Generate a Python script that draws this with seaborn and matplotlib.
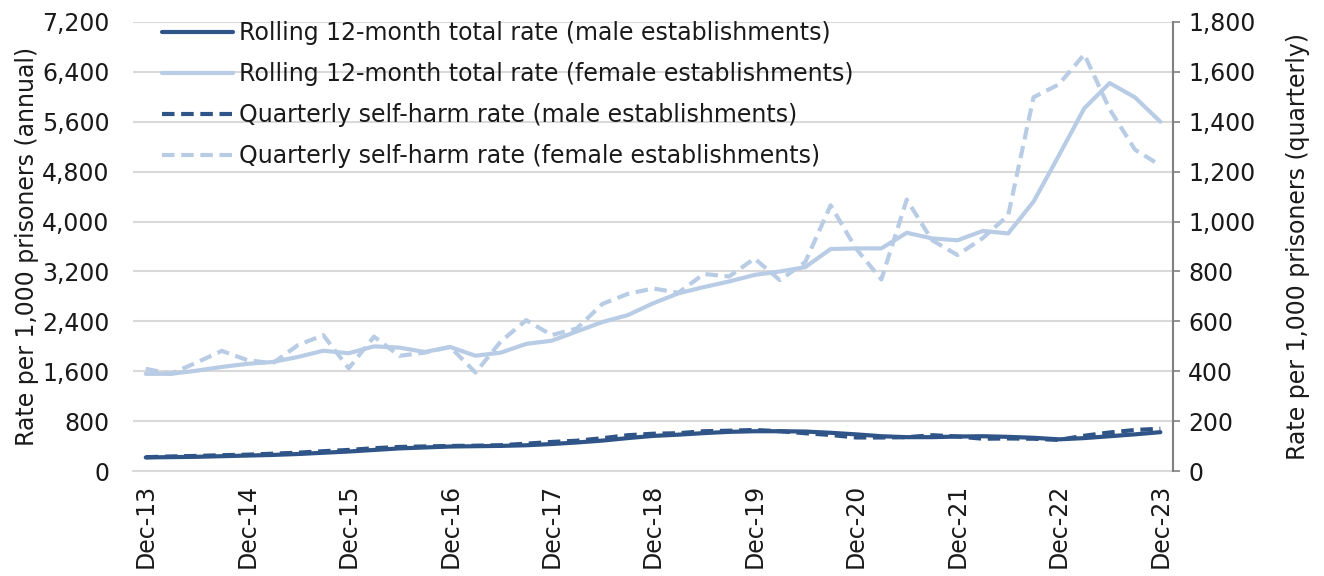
import numpy as np
import pandas as pd
import matplotlib.pyplot as plt
import seaborn as sns
from matplotlib.ticker import FuncFormatter, FixedLocator

# quarters Dec-13 .. Dec-23
months = ["Mar", "Jun", "Sep", "Dec"]
quarters = ["Dec-13"] + [f"{m}-{y:02d}" for y in range(14, 24) for m in months]

# rolling 12-month totals (per 1,000 prisoners, annual)
male_rolling = [220, 225, 230, 240, 250, 260, 275, 295, 315, 340,
                365, 380, 395, 400, 405, 415, 435, 460, 490, 530,
                565, 585, 610, 630, 640, 640, 635, 615, 590, 560,
                545, 545, 555, 560, 550, 535, 510, 530, 560, 590, 625]
female_rolling = [1560, 1560, 1610, 1670, 1720, 1750, 1830, 1930, 1890, 2000,
                  1980, 1910, 1990, 1850, 1900, 2040, 2090, 2240, 2390, 2500,
                  2690, 2850, 2950, 3040, 3145, 3200, 3270, 3560, 3570, 3570,
                  3820, 3730, 3700, 3850, 3810, 4320, 5060, 5815, 6220, 5990, 5600]

# quarterly rates (per 1,000 prisoners, quarterly)
male_quarterly = [56, 59, 61, 64, 66, 70, 74, 80, 85, 92,
                  97, 99, 101, 102, 104, 110, 117, 122, 132, 144,
                  150, 152, 160, 162, 165, 160, 152, 145, 135, 135,
                  136, 144, 139, 130, 131, 130, 125, 142, 155, 165, 170]
female_quarterly = [410, 390, 435, 482, 445, 432, 505, 545, 412, 539,
                    462, 475, 498, 395, 520, 605, 545, 572, 670, 710,
                    732, 715, 790, 780, 852, 765, 838, 1065, 892, 768,
                    1088, 925, 866, 934, 1025, 1498, 1550, 1670, 1450, 1288, 1225]

label_pos = list(range(0, 41, 4))
label_txt = [quarters[i] for i in label_pos]

df = pd.DataFrame({
    "pos": np.arange(len(quarters)),
    "quarter": quarters,
    "male_rolling": male_rolling,
    "female_rolling": female_rolling,
    "male_quarterly": male_quarterly,
    "female_quarterly": female_quarterly,
})

dark = "#2F5487"
light = "#B9CCE5"
txt = "#1a1a1a"
fs = 17

sns.set_style("white")
plt.rcParams["font.family"] = ["DejaVu Sans"]

fig, ax = plt.subplots(figsize=(13.24, 5.76), dpi=100)
fig.subplots_adjust(left=0.1005, right=0.886, top=0.962, bottom=0.182)
ax2 = ax.twinx()

lw = 3.0
dash = (0, (3.0, 1.6))
sns.lineplot(data=df, x="pos", y="male_rolling", ax=ax, color=dark, lw=lw)
sns.lineplot(data=df, x="pos", y="female_rolling", ax=ax, color=light, lw=lw)
sns.lineplot(data=df, x="pos", y="male_quarterly", ax=ax2, color=dark, lw=lw, linestyle=dash)
sns.lineplot(data=df, x="pos", y="female_quarterly", ax=ax2, color=light, lw=lw, linestyle=dash)

ax.set_xlim(-0.5, 40.5)
ax.set_ylim(0, 7200)
ax2.set_ylim(0, 1800)
ax.set_yticks(np.arange(0, 7201, 800))
ax2.set_yticks(np.arange(0, 1801, 200))
fmt = FuncFormatter(lambda v, p: f"{int(v):,}")
ax.yaxis.set_major_formatter(fmt)
ax2.yaxis.set_major_formatter(fmt)

ax.grid(axis="y", color="#D9D9D9", lw=1.5)
ax.set_axisbelow(True)

ax.set_xticks(label_pos)
ax.set_xticklabels(label_txt, rotation=90)
ax.xaxis.set_minor_locator(FixedLocator(np.arange(-0.5, 41, 1)))
ax.tick_params(axis="x", which="major", length=0, pad=9, labelsize=fs, colors=txt)
ax.tick_params(axis="x", which="minor", length=6, width=1.2, color="#D9D9D9", direction="out")
ax.tick_params(axis="y", length=0, labelsize=fs, colors=txt, pad=17)
ax2.tick_params(axis="y", length=5, width=1.2, color="#808080", labelsize=fs,
                labelcolor=txt, direction="out", pad=6)

for s in ["left", "top", "right"]:
    ax.spines[s].set_visible(False)
ax.spines["bottom"].set_color("#D9D9D9")
ax.spines["bottom"].set_linewidth(1.5)
for s in ["left", "top", "bottom"]:
    ax2.spines[s].set_visible(False)
ax2.spines["right"].set_color("#808080")
ax2.spines["right"].set_linewidth(1.5)

ax.set_xlabel("")
ax.set_ylabel("Rate per 1,000 prisoners (annual)", fontsize=fs, color=txt, labelpad=2)
ax2.set_ylabel("Rate per 1,000 prisoners (quarterly)", fontsize=fs, color=txt, labelpad=22)

if ax.get_legend():
    ax.get_legend().remove()
handles = ax.lines[:2] + ax2.lines[:2]
labels = ["Rolling 12-month total rate (male establishments)",
          "Rolling 12-month total rate (female establishments)",
          "Quarterly self-harm rate (male establishments)",
          "Quarterly self-harm rate (female establishments)"]
leg = ax2.legend(handles, labels, loc="upper left", bbox_to_anchor=(0.019, 1.022),
                 frameon=False, fontsize=fs, handlelength=3.0, handletextpad=0.25,
                 labelspacing=0.72, borderaxespad=0)
for t in leg.get_texts():
    t.set_color(txt)

fig.savefig("out.png", dpi=100)
